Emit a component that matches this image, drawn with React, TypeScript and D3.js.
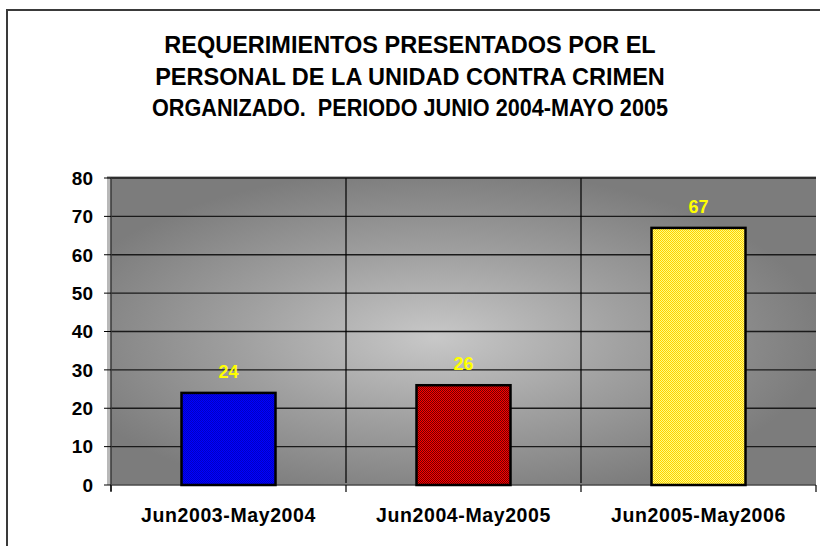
import React from "react";
import * as d3 from "d3";

const titleLines = [
  "REQUERIMIENTOS PRESENTADOS POR EL",
  "PERSONAL DE LA UNIDAD CONTRA CRIMEN",
  "ORGANIZADO.  PERIODO JUNIO 2004-MAYO 2005",
];
const categories = ["Jun2003-May2004", "Jun2004-May2005", "Jun2005-May2006"];
const values = [24, 26, 67];
const yTicks = [0, 10, 20, 30, 40, 50, 60, 70, 80];
const barColors = [
  { id: "patBlue", a: "#0000ff", b: "#0000c4" },
  { id: "patRed", a: "#ff0000", b: "#700000" },
  { id: "patYellow", a: "#ffff80", b: "#ffd000" },
];

const W = 820;
const H = 546;
const plot = { left: 111, top: 178, right: 816, bottom: 485 };
const font = "'Liberation Sans', Arial, Helvetica, sans-serif";

export default function App() {
  const x = d3
    .scaleBand<string>()
    .domain(categories)
    .range([plot.left, plot.right])
    .paddingInner(0)
    .paddingOuter(0);
  const y = d3.scaleLinear().domain([0, 80]).range([plot.bottom, plot.top]);
  const bw = x.bandwidth() * 0.4;
  const boundaries = [...categories.map((c) => x(c) as number), plot.right];

  return (
    <div style={{ position: "absolute", left: 0, top: 0 }}>
      <svg width={W} height={H} style={{ display: "block", background: "#fff" }}>
        <defs>
          <radialGradient id="bg" cx="0.46" cy="0.52" r="0.55" fx="0.46" fy="0.52">
            <stop offset="0" stopColor="#c8c8c8" />
            <stop offset="0.5" stopColor="#a0a0a0" />
            <stop offset="1" stopColor="#7c7c7c" />
          </radialGradient>
          {barColors.map((p) => (
            <pattern key={p.id} id={p.id} width={2} height={2} patternUnits="userSpaceOnUse">
              <rect width={2} height={2} fill={p.a} />
              <rect x={0} y={0} width={1} height={1} fill={p.b} />
              <rect x={1} y={1} width={1} height={1} fill={p.b} />
            </pattern>
          ))}
        </defs>

        {/* outer chart border */}
        <path d={`M7,${H + 5} V10 H${W + 5}`} fill="none" stroke="#3a3a3a" strokeWidth={2} />

        {/* title */}
        <text
          x={410}
          fontFamily={font}
          fontWeight="bold"
          fontSize={23.5}
          textAnchor="middle"
          fill="#000"
          style={{ whiteSpace: "pre" }}
        >
          {titleLines.map((t, i) => (
            <tspan
              key={i}
              x={410}
              y={53 + i * 31.5}
              {...(i === 2 ? { textLength: 516, lengthAdjust: "spacingAndGlyphs" } : {})}
            >
              {t}
            </tspan>
          ))}
        </text>

        {/* plot background */}
        <rect x={plot.left} y={plot.top} width={plot.right - plot.left} height={plot.bottom - plot.top} fill="url(#bg)" />
        <rect x={plot.left - 4} y={plot.top} width={4} height={plot.bottom - plot.top} fill="#b8b8b8" />
        <line x1={plot.left - 4} x2={plot.right} y1={plot.top - 0.5} y2={plot.top - 0.5} stroke="#6a6a6a" strokeWidth={2} />

        {/* horizontal gridlines */}
        {yTicks.slice(1).map((t) => (
          <line key={t} x1={plot.left} x2={plot.right} y1={y(t)} y2={y(t)} stroke="#1a1a1a" strokeWidth={1.3} />
        ))}
        {/* vertical category lines */}
        {boundaries.slice(1, -1).map((b, i) => (
          <line key={i} x1={b} x2={b} y1={plot.top} y2={plot.bottom - 2} stroke="#000" strokeWidth={1.2} />
        ))}

        {/* y axis */}
        <line x1={plot.left} x2={plot.left} y1={plot.top} y2={plot.bottom + 6} stroke="#3a3a3a" strokeWidth={1.5} />
        {yTicks.map((t) => (
          <g key={t}>
            <line x1={plot.left - 7} x2={plot.left} y1={y(t)} y2={y(t)} stroke="#000" strokeWidth={1} />
            <text x={93} y={y(t)} dy="0.36em" textAnchor="end" fontFamily={font} fontWeight="bold" fontSize={19} fill="#000">
              {t}
            </text>
          </g>
        ))}

        {/* x axis */}
        <line x1={plot.left} x2={plot.right} y1={plot.bottom} y2={plot.bottom} stroke="#4a4a4a" strokeWidth={1.5} />
        {boundaries.map((b, i) => (
          <line key={i} x1={b} x2={b} y1={plot.bottom} y2={plot.bottom + 7} stroke="#000" strokeWidth={1.2} />
        ))}
        {categories.map((c) => (
          <text
            key={c}
            x={(x(c) as number) + x.bandwidth() / 2}
            y={522}
            textAnchor="middle"
            fontFamily={font}
            fontWeight="bold"
            fontSize={19.5}
            letterSpacing={0.6}
            fill="#000"
          >
            {c}
          </text>
        ))}

        {/* bars */}
        {categories.map((c, i) => {
          const cx = (x(c) as number) + x.bandwidth() / 2;
          return (
            <g key={c}>
              <rect
                x={cx - bw / 2}
                y={y(values[i])}
                width={bw}
                height={y(0) - y(values[i])}
                fill={`url(#${barColors[i].id})`}
                stroke="#000"
                strokeWidth={2.5}
              />
              <text
                x={cx}
                y={y(values[i]) - 15}
                textAnchor="middle"
                fontFamily={font}
                fontWeight="bold"
                fontSize={18}
                fill="#ffff00"
              >
                {values[i]}
              </text>
            </g>
          );
        })}
      </svg>
    </div>
  );
}
